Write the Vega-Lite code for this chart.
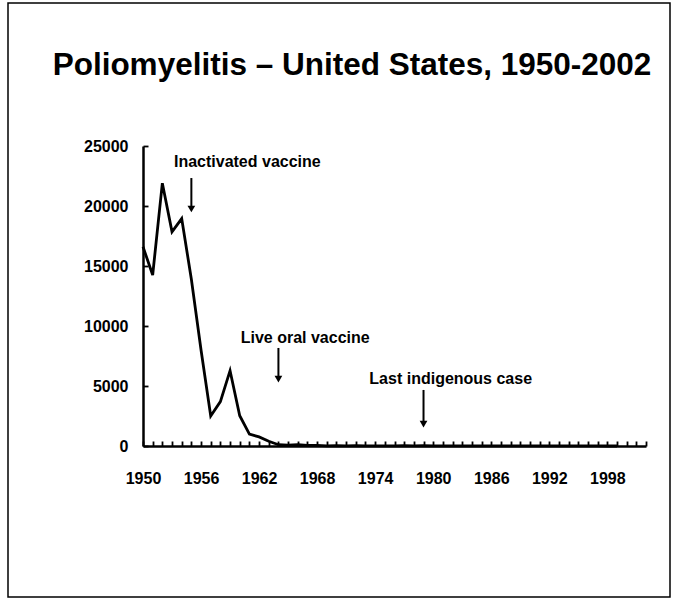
{
  "$schema": "https://vega.github.io/schema/vega-lite/v6.json",
  "width": 662,
  "height": 594,
  "autosize": {"type": "none"},
  "padding": {"left": 8, "top": 3, "right": 9, "bottom": 4},
  "background": "white",
  "title": {
    "text": "Poliomyelitis – United States, 1950-2002",
    "font": "Liberation Sans",
    "fontSize": 31.5,
    "fontWeight": "bold",
    "color": "black",
    "anchor": "middle",
    "frame": "group",
    "baseline": "alphabetic",
    "offset": 0,
    "dx": 13,
    "dy": 103
  },
  "config": {
    "view": {"stroke": "black", "strokeWidth": 1.5},
    "font": "Liberation Sans"
  },
  "datasets": {
    "series": [
      {"year": 1950, "cases": 16600},
      {"year": 1951, "cases": 14250},
      {"year": 1952, "cases": 21900},
      {"year": 1953, "cases": 17850},
      {"year": 1954, "cases": 18950},
      {"year": 1955, "cases": 13900},
      {"year": 1956, "cases": 8000},
      {"year": 1957, "cases": 2500},
      {"year": 1958, "cases": 3700},
      {"year": 1959, "cases": 6280},
      {"year": 1960, "cases": 2520},
      {"year": 1961, "cases": 990},
      {"year": 1962, "cases": 760},
      {"year": 1963, "cases": 400},
      {"year": 1964, "cases": 106},
      {"year": 1965, "cases": 61},
      {"year": 1966, "cases": 106},
      {"year": 1967, "cases": 41},
      {"year": 1968, "cases": 53},
      {"year": 1969, "cases": 18},
      {"year": 1970, "cases": 31},
      {"year": 1971, "cases": 17},
      {"year": 1972, "cases": 29},
      {"year": 1973, "cases": 7},
      {"year": 1974, "cases": 7},
      {"year": 1975, "cases": 13},
      {"year": 1976, "cases": 10},
      {"year": 1977, "cases": 19},
      {"year": 1978, "cases": 8},
      {"year": 1979, "cases": 22},
      {"year": 1980, "cases": 9},
      {"year": 1981, "cases": 10},
      {"year": 1982, "cases": 12},
      {"year": 1983, "cases": 13},
      {"year": 1984, "cases": 9},
      {"year": 1985, "cases": 7},
      {"year": 1986, "cases": 10},
      {"year": 1987, "cases": 9},
      {"year": 1988, "cases": 9},
      {"year": 1989, "cases": 11},
      {"year": 1990, "cases": 6},
      {"year": 1991, "cases": 10},
      {"year": 1992, "cases": 6},
      {"year": 1993, "cases": 4},
      {"year": 1994, "cases": 8},
      {"year": 1995, "cases": 7},
      {"year": 1996, "cases": 7},
      {"year": 1997, "cases": 3},
      {"year": 1998, "cases": 1},
      {"year": 1999, "cases": 2}
    ],
    "arrows": [
      {"year": 1955, "top": 22330, "head": 19750},
      {"year": 1964, "top": 8170, "head": 5580},
      {"year": 1979, "top": 4670, "head": 1830}
    ],
    "notes": [
      {"year": 1953.2, "level": 23670, "label": "Inactivated vaccine"},
      {"year": 1960.1, "level": 9000, "label": "Live oral vaccine"},
      {"year": 1973.4, "level": 5580, "label": "Last indigenous case"}
    ]
  },
  "resolve": {"axis": {"x": "independent", "y": "independent"}},
  "layer": [
    {
      "data": {"name": "series"},
      "mark": {"type": "line", "color": "black", "strokeWidth": 2.8, "strokeJoin": "miter"},
      "encoding": {
        "x": {
          "field": "year",
          "type": "quantitative",
          "scale": {"domain": [1950, 2002], "range": [135, 638], "nice": false, "zero": false},
          "axis": {
            "orient": "bottom",
            "offset": -151,
            "title": null,
            "values": [1950, 1956, 1962, 1968, 1974, 1980, 1986, 1992, 1998],
            "format": "d",
            "labelOverlap": false,
            "labelFlush": false,
            "grid": false,
            "ticks": false,
            "domainColor": "black",
            "domainWidth": 2.5,
            "labelPadding": 24,
            "labelBaseline": "top",
            "labelFont": "Liberation Sans",
            "labelFontSize": 16,
            "labelFontWeight": "bold",
            "labelColor": "black"
          }
        },
        "y": {
          "field": "cases",
          "type": "quantitative",
          "scale": {"domain": [0, 25000], "range": [443, 143], "nice": false},
          "axis": {
            "orient": "left",
            "offset": -135,
            "title": null,
            "values": [0, 5000, 10000, 15000, 20000, 25000],
            "format": "d",
            "labelFlush": false,
            "labelOverlap": false,
            "grid": false,
            "ticks": false,
            "domainColor": "black",
            "domainWidth": 2.5,
            "labelPadding": 15,
            "labelFont": "Liberation Sans",
            "labelFontSize": 16,
            "labelFontWeight": "bold",
            "labelColor": "black"
          }
        }
      }
    },
    {
      "data": {"name": "arrows"},
      "mark": {"type": "rule", "color": "black", "strokeWidth": 2},
      "encoding": {
        "x": {
          "field": "year",
          "type": "quantitative",
          "axis": {
            "orient": "top",
            "offset": -443,
            "title": null,
            "values": [1950,1951,1952,1953,1954,1955,1956,1957,1958,1959,1960,1961,1962,1963,1964,1965,1966,1967,1968,1969,1970,1971,1972,1973,1974,1975,1976,1977,1978,1979,1980,1981,1982,1983,1984,1985,1986,1987,1988,1989,1990,1991,1992,1993,1994,1995,1996,1997,1998,1999,2000,2001,2002],
            "labels": false,
            "domain": false,
            "grid": false,
            "tickColor": "black",
            "tickWidth": 1.8,
            "tickSize": 5
          }
        },
        "y": {
          "field": "top",
          "type": "quantitative",
          "axis": {
            "orient": "right",
            "offset": -527,
            "title": null,
            "values": [0, 5000, 10000, 15000, 20000, 25000],
            "labels": false,
            "domain": false,
            "grid": false,
            "tickColor": "black",
            "tickWidth": 1.8,
            "tickSize": 5
          }
        },
        "y2": {"field": "head"}
      }
    },
    {
      "data": {"name": "arrows"},
      "mark": {"type": "point", "shape": "triangle-down", "filled": true, "color": "black", "size": 60, "opacity": 1},
      "encoding": {
        "x": {"field": "year", "type": "quantitative", "axis": null},
        "y": {"field": "head", "type": "quantitative", "axis": null}
      }
    },
    {
      "data": {"name": "notes"},
      "mark": {"type": "text", "align": "left", "baseline": "middle", "font": "Liberation Sans", "fontSize": 16, "fontWeight": "bold", "color": "black"},
      "encoding": {
        "x": {"field": "year", "type": "quantitative", "axis": null},
        "y": {"field": "level", "type": "quantitative", "axis": null},
        "text": {"field": "label", "type": "nominal"}
      }
    }
  ]
}
